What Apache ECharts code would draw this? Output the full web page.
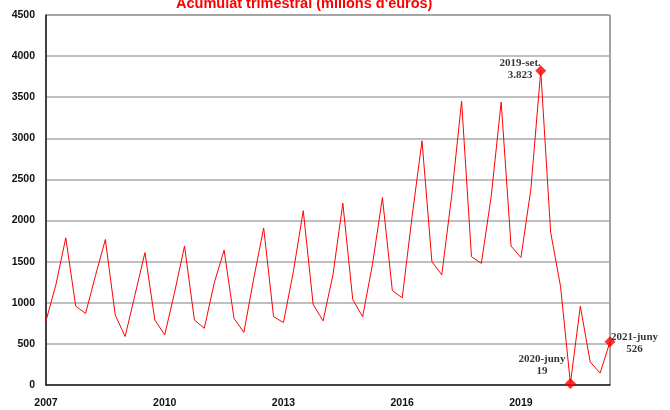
<!DOCTYPE html>
<html>
<head>
<meta charset="utf-8">
<script src="https://cdn.jsdelivr.net/npm/echarts@6/dist/echarts.min.js"></script>
<style>
  html, body { margin: 0; padding: 0; background: #fff; }
  #main { width: 670px; height: 410px; }
</style>
</head>
<body>
<div id="main"></div>
<script>
// anys del periode (trimestral, 2007 T1 - 2021 T2)
var years = [2007, 2008, 2009, 2010, 2011, 2012, 2013, 2014, 2015, 2016, 2017, 2018, 2019, 2020, 2021];
var quarterNames = ['mar', 'juny', 'set.', 'des.'];

// acumulat trimestral, milions d'euros
var values = [
	780, 1220, 1790, 960,
	870, 1330, 1770, 850,
	590, 1100, 1610, 790,
	610, 1130, 1690, 790,
	690, 1240, 1640, 810,
	640, 1300, 1910, 830,
	760, 1380, 2120, 980,
	780, 1340, 2210, 1040,
	830, 1470, 2280, 1150,
	1060, 2050, 2970, 1500,
	1340, 2300, 3450, 1560,
	1480, 2300, 3440, 1690,
	1550, 2380, 3823, 1860,
	1200, 19, 960, 280,
	145, 526
];

// punts destacats
var highlightIdx = [50, 53, 57];
var highlightText = ['2019-set.\n3.823', '2020-juny\n19', '2021-juny\n526'];
var labelPos = [[-15, 4], [-23, -13], [30, 7]];

var categories = [];
for (var i = 0; i < values.length; i++) {
	var y = years[Math.floor(i / 4)];
	categories.push(y + '-' + quarterNames[i % 4]);
}

var marks = [];
for (var k = 0; k < highlightIdx.length; k++) {
	var idx = highlightIdx[k];
	marks.push({
		value: [idx, values[idx]],
		label: {
			show: true,
			formatter: highlightText[k],
			position: labelPos[k],
			align: 'center',
			verticalAlign: 'middle'
		}
	});
}

var myChart = echarts.init(document.getElementById('main'));

var option = {
	animation: false,
	title: {
		text: "Acumulat trimestral (milions d'euros)",
		left: 171,
		top: -9,
		textStyle: {
			color: '#ff0000',
			fontSize: 14.5,
			fontWeight: 'bold',
			fontFamily: '"Liberation Sans", sans-serif'
		}
	},
	grid: {
		left: 46,
		right: 60,
		top: 15,
		bottom: 25,
		show: true,
		borderColor: '#444',
		borderWidth: 1
	},
	xAxis: {
		type: 'category',
		data: categories,
		boundaryGap: false,
		axisLine: { lineStyle: { color: '#222', width: 1.5 } },
		axisTick: { show: false },
		axisLabel: {
			interval: 11,
			margin: 13,
			color: '#111',
			fontSize: 10.5,
			fontWeight: 'bold',
			fontFamily: '"Liberation Sans", sans-serif',
			formatter: function (v) { return v.split('-')[0]; }
		},
		splitLine: { show: false }
	},
	yAxis: {
		type: 'value',
		min: 0,
		max: 4500,
		interval: 500,
		axisLine: { show: true, lineStyle: { color: '#222', width: 1.5 } },
		axisTick: { show: false },
		axisLabel: {
			margin: 11,
			color: '#111',
			fontSize: 10.5,
			fontWeight: 'bold',
			fontFamily: '"Liberation Sans", sans-serif',
			formatter: function (v) { return String(v); }
		},
		splitLine: { lineStyle: { color: '#aaaaaa', width: 1.5 } }
	},
	series: [{
		type: 'line',
		data: values,
		symbol: 'none',
		lineStyle: { color: '#ff0000', width: 1 },
		z: 2
	}, {
		type: 'scatter',
		data: marks,
		symbol: 'diamond',
		symbolSize: 11,
		itemStyle: { color: '#ff0000' },
		label: {
			color: '#000',
			fontSize: 11,
			fontWeight: 'bold',
			lineHeight: 12,
			fontFamily: '"Liberation Serif", serif'
		},
		z: 3
	}]
};

myChart.setOption(option);
</script>
</body>
</html>
